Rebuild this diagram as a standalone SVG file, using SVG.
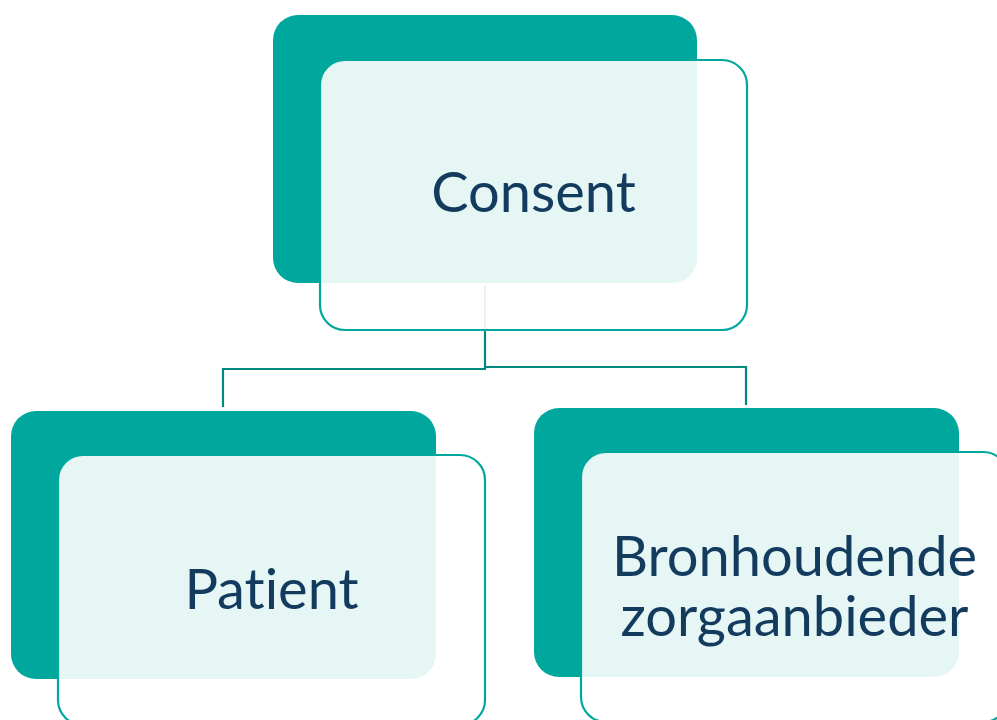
<svg xmlns="http://www.w3.org/2000/svg" width="997" height="720" viewBox="0 0 997 720">
<style>
.back{fill:#00A79D;}
.front{fill:#FFFFFF;fill-opacity:0.9;stroke:#00A79D;stroke-width:2.2;}
.conn{fill:none;stroke:#00897E;stroke-width:2.2;}
.lbl{font-family:Lato,"Liberation Sans",sans-serif;font-size:56px;fill:#123B5E;text-anchor:middle;font-variant-ligatures:none;font-feature-settings:"liga" 0;}
</style>
<rect width="997" height="720" fill="#FFFFFF"/>
<g id="connectors">
<polyline class="conn" points="485,286 485,369 223,369 223,407"/>
<polyline class="conn" points="485,367 746,367 746,405"/>
</g>
<g id="node-consent">
<rect class="back" x="273" y="15" width="424" height="268" rx="25"/>
<rect class="front" x="320" y="60" width="427" height="270" rx="25"/>
<text class="lbl" x="533.5" y="212">Consent</text>
</g>
<g id="node-patient">
<rect class="back" x="11" y="411" width="425" height="268" rx="25"/>
<rect class="front" x="58" y="455" width="427" height="270" rx="25"/>
<text class="lbl" x="271.5" y="609">Patient</text>
</g>
<g id="node-zorgaanbieder">
<rect class="back" x="534" y="408" width="425" height="269" rx="25"/>
<rect class="front" x="581" y="452" width="427" height="270" rx="25"/>
<text class="lbl"><tspan x="794.5" y="576">Bronhoudende</tspan><tspan x="794.5" y="636">zorgaanbieder</tspan></text>
</g>
</svg>
